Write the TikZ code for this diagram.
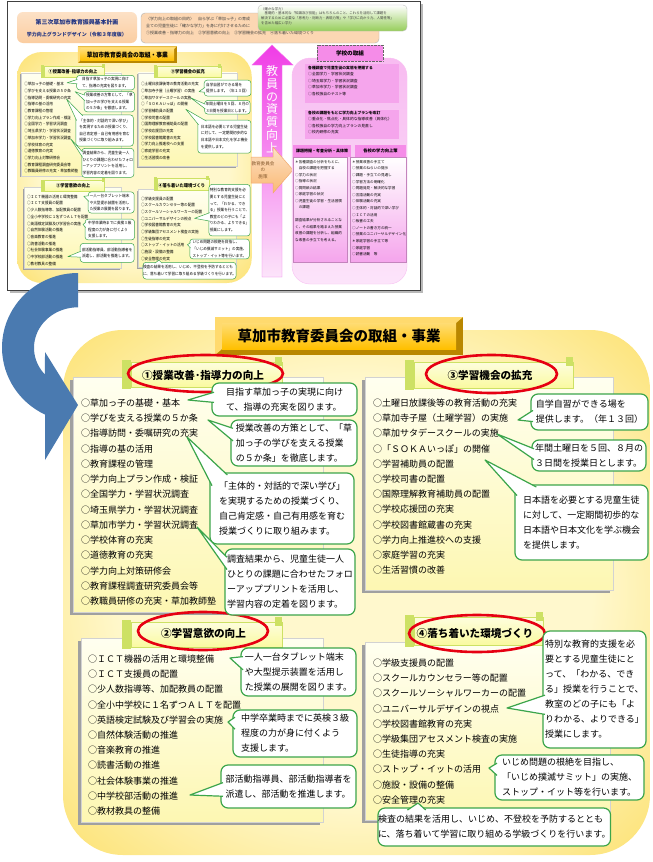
\documentclass[tikz,border=0pt]{standalone}
\usepackage{fontspec}
\setmainfont{Noto Sans CJK JP}
\usetikzlibrary{calc}
\definecolor{callgreen}{RGB}{60,165,75}
\definecolor{ovalred}{RGB}{230,0,18}
\definecolor{goldface}{RGB}{255,192,0}
\definecolor{golddark}{RGB}{185,135,0}
\definecolor{goldlight}{RGB}{255,218,110}
\definecolor{areaedge}{RGB}{247,180,30}
\definecolor{areamid}{RGB}{252,222,100}
\definecolor{areacore}{RGB}{255,248,205}
\definecolor{boxtop}{RGB}{255,255,240}
\definecolor{boxbot}{RGB}{253,247,178}
\definecolor{tabfill}{RGB}{250,250,160}
\definecolor{tabroll}{RGB}{205,225,100}
\definecolor{shadowgray}{RGB}{160,160,160}
\definecolor{arrowblue}{RGB}{74,122,176}
\definecolor{navytext}{RGB}{30,50,130}
\definecolor{peach}{RGB}{251,205,160}
\definecolor{peachedge}{RGB}{240,170,110}
\definecolor{leafgreen}{RGB}{150,205,90}
\definecolor{magentaup}{RGB}{240,60,230}
\definecolor{pinklight}{RGB}{252,228,250}
\definecolor{pinkbox}{RGB}{245,165,236}
\definecolor{pinktab}{RGB}{245,140,232}
\definecolor{orangehead}{RGB}{250,185,115}
\pgfdeclareradialshading{areaglow}{\pgfpoint{0bp}{0bp}}{color(0bp)=(areacore); color(20bp)=(areacore); color(38bp)=(areamid); color(50bp)=(areaedge); color(70bp)=(areaedge)}

\newcommand\entryfont{\fontsize{9}{11}\selectfont}
\newcommand\callfont{\fontsize{9}{15}\selectfont}
\newcommand\tabfont{\bfseries\fontsize{10.6}{12}\selectfont}
\newcommand\headfont{\bfseries\fontsize{14.5}{16}\selectfont}

% the board of the education board, drawn twice (thumbnail and large)
\newcommand\drawboard{%
  \shade[shading=areaglow, arearound] (63,330) rectangle (650,855);
  \fill[golddark] (215,317) rectangle (463,355);
  \fill[goldlight] (215,317) -- (463,317) -- (456,323) -- (222,323) -- (222,349) -- (215,355) -- cycle;
  \shade[top color=goldface!55!white, bottom color=goldface] (222,323) rectangle (456,349);
  \node[font=\headfont] (boardhead) at (339,336) {草加市教育委員会の取組・事業};
  % section 1
  \fill[shadowgray] (70,380) rectangle (320,615);
  \shade[sectionbox] (73,377) rectangle (323,612);
  \fill[tabroll] (122,360) rectangle (131,389);
  \shade[tabbody] (131,362) rectangle (282,387);
  \fill[tabroll] (275,357) rectangle (282,366);
  \node[font=\tabfont] (h1) at (203,375) {①授業改善･指導力の向上};
  \draw[oval] (205.5,373.5) ellipse[x radius=77.5pt, y radius=18.5pt];
  \foreach \txt [count=\n] in {○草加っ子の基礎・基本,○学びを支える授業の５か条,○指導訪問・委嘱研究の充実,○指導の基の活用,○教育課程の管理,○学力向上プラン作成・検証,○全国学力・学習状況調査,○埼玉県学力・学習状況調査,○草加市学力・学習状況調査,○学校体育の充実,○道徳教育の充実,○学力向上対策研修会,○教育課程調査研究委員会等,○教職員研修の充実・草加教師塾}
    \node[listentry] (s1-\n) at (81,{403+(\n-1)*15.25}) {\txt};
  % section 3
  \fill[shadowgray] (362,380) rectangle (610,593);
  \shade[sectionbox] (365,377) rectangle (613,590);
  \fill[tabroll] (405,360) rectangle (414,390);
  \shade[tabbody] (414,362) rectangle (573,388);
  \fill[tabroll] (566,357) rectangle (573,366);
  \node[font=\tabfont] (h3) at (490,375) {③学習機会の拡充};
  \draw[oval] (491.5,374) ellipse[x radius=65.5pt, y radius=19pt];
  \foreach \txt [count=\n] in {○土曜日放課後等の教育活動の充実,○草加寺子屋（土曜学習）の実施,○草加サタデースクールの実施,○「ＳＯＫＡいっぽ」の開催,○学習補助員の配置,○学校司書の配置,○国際理解教育補助員の配置,○学校応援団の充実,○学校図書館蔵書の充実,○学力向上推進校への支援,○家庭学習の充実,○生活習慣の改善}
    \node[listentry] (s3-\n) at (373,{403+(\n-1)*15.2}) {\txt};
  % section 2
  \fill[shadowgray] (78,641) rectangle (320,825);
  \shade[sectionbox] (81,638) rectangle (323,822);
  \fill[tabroll] (122,620) rectangle (131,649);
  \shade[tabbody] (131,622) rectangle (282,647);
  \fill[tabroll] (275,617) rectangle (282,626);
  \node[font=\tabfont] (h2) at (203.5,633) {②学習意欲の向上};
  \draw[oval] (203,631) ellipse[x radius=65pt, y radius=19pt];
  \foreach \txt [count=\n] in {○ＩＣＴ機器の活用と環境整備,○ＩＣＴ支援員の配置,○少人数指導等、加配教員の配置,○全小中学校に１名ずつＡＬＴを配置,○英語検定試験及び学習会の実施,○自然体験活動の推進,○音楽教育の推進,○読書活動の推進,○社会体験事業の推進,○中学校部活動の推進,○教材教具の整備}
    \node[listentry] (s2-\n) at (88,{659+(\n-1)*15.2}) {\txt};
  % section 4
  \fill[shadowgray] (362,645) rectangle (607,823);
  \shade[sectionbox] (365,642) rectangle (610,820);
  \fill[tabroll] (405,615) rectangle (414,647);
  \shade[tabbody] (414,617) rectangle (543,645);
  \fill[tabroll] (536,612) rectangle (543,621);
  \node[font=\tabfont] (h4) at (475,633) {④落ち着いた環境づくり};
  \draw[oval] (477,633.5) ellipse[x radius=68pt, y radius=18.5pt];
  \foreach \txt [count=\n] in {○学級支援員の配置,○スクールカウンセラー等の配置,○スクールソーシャルワーカーの配置,○ユニバーサルデザインの視点,○学校図書館教育の充実,○学級集団アセスメント検査の実施,○生徒指導の充実,○ストップ・イットの活用,○施設・設備の整備,○安全管理の充実}
    \node[listentry] (s4-\n) at (373,{663+(\n-1)*15.2}) {\txt};
  % callouts
  \node[callout, minimum width=145, minimum height=33] (c1) at (214,385) {目指す草加っ子の実現に向け\\て、指導の充実を図ります。};
  \coordinate (c1tip) at (188,400);
  \filldraw[tailline] ($(c1.north west)!.25!(c1.south west)$) -- (c1tip) -- ($(c1.north west)!.6!(c1.south west)$);
  \node[callout, minimum width=126, minimum height=46] (c2) at (233,422) {授業改善の方策として、「草\\加っ子の学びを支える授業\\の５か条」を徹底します。};
  \coordinate (c2tip) at (208,420);
  \filldraw[tailline] ($(c2.north west)!.15!(c2.south west)$) -- (c2tip) -- ($(c2.north west)!.45!(c2.south west)$);
  \node[callout, minimum width=144, minimum height=71] (c3) at (212,475) {「主体的・対話的で深い学び」\\を実現するための授業づくり、\\自己肯定感・自己有用感を育む\\授業づくりに取り組みます。};
  \coordinate (c3tip) at (187,437);
  \filldraw[tailline] ($(c3.north west)!.11!(c3.north east)$) -- (c3tip) -- ($(c3.north west)!.16!(c3.south west)$);
  \node[callout, minimum width=130, minimum height=66] (c4) at (227,551) {調査結果から、児童生徒一人\\ひとりの課題に合わせたフォロ\\ーアッププリントを活用し、\\学習内容の定着を図ります。};
  \coordinate (c4tip) at (197,527);
  \filldraw[tailline] ($(c4.north west)!.1!(c4.south west)$) -- (c4tip) -- ($(c4.north west)!.3!(c4.south west)$);
  \node[callout, minimum width=115, minimum height=48] (d1) at (243,650) {一人一台タブレット端末\\や大型提示装置を活用し\\た授業の展開を図ります。};
  \coordinate (d1tip) at (230,658);
  \filldraw[tailline] ($(d1.north west)!.15!(d1.south west)$) -- (d1tip) -- ($(d1.north west)!.45!(d1.south west)$);
  \node[callout, minimum width=124, minimum height=47] (d2) at (235,712) {中学卒業時までに英検３級\\程度の力が身に付くよう\\支援します。};
  \coordinate (d2tip) at (228,722);
  \filldraw[tailline] ($(d2.north west)!.12!(d2.south west)$) -- (d2tip) -- ($(d2.north west)!.4!(d2.south west)$);
  \node[callout, minimum width=135, minimum height=43] (d3) at (223,767) {部活動指導員、部活動指導者を\\派遣し、部活動を推進します。};
  \coordinate (d3tip) at (190,795);
  \filldraw[tailline] ($(d3.north west)!.4!(d3.south west)$) -- (d3tip) -- ($(d3.north west)!.75!(d3.south west)$);
  \node[callout, minimum width=117, minimum height=36] (e1) at (533,396) {自学自習ができる場を\\提供します。（年１３回）};
  \coordinate (e1tip) at (518,420);
  \filldraw[tailline] ($(e1.north west)!.45!(e1.south west)$) -- (e1tip) -- ($(e1.north west)!.8!(e1.south west)$);
  \node[callout, minimum width=114, minimum height=31] (e2) at (534,442) {年間土曜日を５回、８月の\\３日間を授業日とします。};
  \coordinate (e2tip) at (497,434);
  \filldraw[tailline] ($(e2.north west)!.25!(e2.south west)$) -- (e2tip) -- ($(e2.north west)!.65!(e2.south west)$);
  \node[callout, minimum width=133, minimum height=75] (e3) at (517,487) {日本語を必要とする児童生徒\\に対して、一定期間初歩的な\\日本語や日本文化を学ぶ機会\\を提供します。};
  \coordinate (e3tip) at (485,460);
  \filldraw[tailline] ($(e3.north west)!.15!(e3.north east)$) -- (e3tip) -- ($(e3.north west)!.12!(e3.south west)$);
  \node[callout, minimum width=103, minimum height=117] (f1) at (545,633) {特別な教育的支援を必\\要とする児童生徒にと\\って、「わかる、でき\\る」授業を行うことで、\\教室のどの子にも「よ\\りわかる、よりできる」\\授業にします。};
  \coordinate (f1tip) at (507,708);
  \filldraw[tailline] ($(f1.north west)!.55!(f1.south west)$) -- (f1tip) -- ($(f1.north west)!.72!(f1.south west)$);
  \node[callout, minimum width=149, minimum height=45] (f2) at (497,757) {いじめ問題の根絶を目指し、\\「いじめ撲滅サミット」の実施、\\ストップ・イット等を行います。};
  \coordinate (f2tip) at (489,768);
  \filldraw[tailline] ($(f2.north west)!.15!(f2.south west)$) -- (f2tip) -- ($(f2.north west)!.45!(f2.south west)$);
  \node[callout, minimum width=232, minimum height=38] (f3) at (380,810) {検査の結果を活用し、いじめ、不登校を予防するととも\\に、落ち着いて学習に取り組める学級づくりを行います。};
  \coordinate (f3tip) at (418,803);
  \filldraw[tailline] ($(f3.north west)!.12!(f3.north east)$) -- (f3tip) -- ($(f3.north west)!.2!(f3.north east)$);
}

\begin{document}
\begin{tikzpicture}[x=1pt,y=-1pt,
  callout/.style={draw=callgreen, fill=white, line width=1.2pt, rounded corners=7pt,
                  inner sep=0pt, outer sep=-2pt, anchor=north west, align=left, font=\callfont},
  tailline/.style={draw=callgreen, fill=white, line width=1.2pt, line join=round},
  listentry/.style={anchor=west, inner sep=0pt, font=\entryfont},
  oval/.style={draw=ovalred, line width=2.6pt},
  sectionbox/.style={top color=boxtop, bottom color=boxbot, draw=gray!35, line width=0.3pt},
  tabbody/.style={top color=tabfill!35!white, bottom color=tabfill, draw=tabroll, line width=0.4pt},
  arearound/.style={rounded corners=60pt},
  schooltext/.style={inner sep=0pt, align=left, anchor=north west, font=\fontsize{3.8}{6.5}\selectfont}
]
\useasboundingbox (0,0) rectangle (653,862);

% thumbnail of the whole plan
\fill[gray!55] (10,4) rectangle (423,293);
\filldraw[fill=white, draw=black!75, line width=0.8pt] (7,1) rectangle (420,290);
\shade[top color=peach!60!white, bottom color=peach, rounded corners=6pt] (17,12) rectangle (137,43);
\node[font=\bfseries\fontsize{5.9}{7}\selectfont, text=navytext] (plantitle) at (77,22) {第三次草加市教育振興基本計画};
\node[font=\bfseries\fontsize{5}{6}\selectfont, text=navytext] (plansub) at (77,35) {学力向上グランドデザイン（令和３年度版）};
\filldraw[fill=peach!80!white, draw=gray!60, rounded corners=4pt] (141,13) rectangle (379,43);
\node[schooltext, font=\fontsize{4}{7}\selectfont, text=black!75] (aimtext) at (146,17) {〈学力向上の取組の目的〉　自ら学ぶ「草加っ子」の育成\\全ての児童生徒に「確かな学力」を身に付けさせるために\\①授業改善・指導力の向上　②学習意欲の向上　③学習機会の拡充　④落ち着いた環境づくり};
\shade[top color=white, bottom color=leafgreen, draw=gray!50, rounded corners=4pt] (258,5) rectangle (407,31);
\node[schooltext, font=\fontsize{3.4}{4.7}\selectfont, text=black!75] (abilitytext) at (261,7) {〈確かな学力〉\\　基礎的・基本的な「知識及び技能」はもちろんのこと、これらを活用して課題を\\解決するために必要な「思考力・判断力・表現力等」や「学びに向かう力、人間性等」\\を含めた幅広い学力};

\begin{scope}[shift={(17,52)}, xscale=0.4, yscale=0.44, shift={(-63,-330)}, transform shape,
  oval/.style={draw=none},
  callout/.append style={line width=0.5pt, rounded corners=3pt},
  tailline/.append style={line width=0.5pt},
  arearound/.style={rounded corners=25pt}]
\drawboard
\end{scope}

% arrows between the two sides
\shade[top color=magentaup, bottom color=pinklight, draw=magentaup!70!white, line width=0.4pt]
  (272,45) -- (293,65) -- (282,65) -- (282,277) -- (262,277) -- (262,65) -- (252,65) -- cycle;
\node[font=\fontsize{12}{12.8}\selectfont, text=white, align=center] (uptext) at (272,109) {教\\員\\の\\資\\質\\向\\上};
\shade[top color=peach!60!white, bottom color=orangehead, draw=peachedge, line width=0.5pt]
  (251,157) -- (273,157) -- (273,147) -- (293,170) -- (273,193) -- (273,183) -- (251,183) -- cycle;
\node[font=\fontsize{4.6}{6.5}\selectfont, text=brown!70!black, align=center] (policy) at (263,170) {教育委員会\\の\\施策};

% school side
\shade[top color=pinkbox!75!white, bottom color=pinklight, draw=pinkbox!70!white, rounded corners=18pt] (292,58) rectangle (407,284);
\node[fill=pinktab, draw=black!60, densely dotted, minimum width=66, minimum height=16, inner sep=0pt,
      font=\bfseries\fontsize{5.6}{6}\selectfont] (schoolhead) at (350,53) {学校の取組};
\fill[pinkbox] (305,64) rectangle (399,103);
\node[schooltext] (survey) at (308,66) {\textbf{各種調査で児童生徒の実態を把握する}\\○全国学力・学習状況調査\\○埼玉県学力・学習状況調査\\○草加市学力・学習状況調査\\○各校独自のテスト等};
\fill[pinkbox] (305,110) rectangle (399,139);
\node[schooltext] (plan) at (308,111) {\textbf{各校の課題をもとに学力向上プランを改訂}\\○重点化・焦点化・具体的な指導改善（具体化）\\○各校独自の学力向上プランの見直し\\○校内研修の充実};
\fill[pinktab] (293,145) rectangle (351,157);
\node[font=\bfseries\fontsize{4}{5}\selectfont] (analysishead) at (322,151) {課題把握・考査分析・具体策};
\shade[top color=white, bottom color=pinkbox, draw=pinkbox!80!black, line width=0.3pt] (293,157) rectangle (347,262);
\node[schooltext, font=\fontsize{3.6}{6.5}\selectfont] (analysis) at (295,160) {＊各種調査の分析をもとに、\\　自校の課題を把握する\\○学力の状況\\○指導の状況\\○質問紙の結果\\○家庭学習の状況\\○児童生徒の学習・生活習慣\\　の課題\\[6.5pt]調査結果が分析されることな\\く、その結果を踏まえた授業\\改善の課題を分析し、組織的\\な改善の手立てを考える。};
\fill[pinktab] (355,145) rectangle (406,157);
\node[font=\bfseries\fontsize{4.3}{5}\selectfont] (measurehead) at (380.5,151) {各校の学力向上策};
\shade[top color=white, bottom color=pinkbox, draw=pinkbox!80!black, line width=0.3pt] (350,157) rectangle (406,262);
\node[schooltext, font=\fontsize{3.6}{6.6}\selectfont] (measures) at (352,160) {＊授業改善の手立て\\○授業のねらいの提示\\○課題・手立ての見通し\\○学習方法の明確化\\○問題発見・解決的な学習\\○言語活動の充実\\○体験活動の充実\\○主体的・対話的で深い学び\\○ＩＣＴの活用\\○板書の工夫\\○ノートの書き方の統一\\○授業のユニバーサルデザイン化\\＊家庭学習の手立て等\\○家庭学習\\○読書活動　等};

% enlarged board
\drawboard

% curved arrow from the thumbnail to the enlarged board
\fill[arrowblue] plot[domain=270:115.7, samples=40] ({78+76*cos(\x)},{347.5+74.5*sin(\x)})
  -- (45,460) -- (78,405) -- (45,352)
  -- plot[domain=138.6:270, samples=40] ({78+44*cos(\x)},{347.8+40.5*sin(\x)}) -- cycle;
\end{tikzpicture}
\end{document}
